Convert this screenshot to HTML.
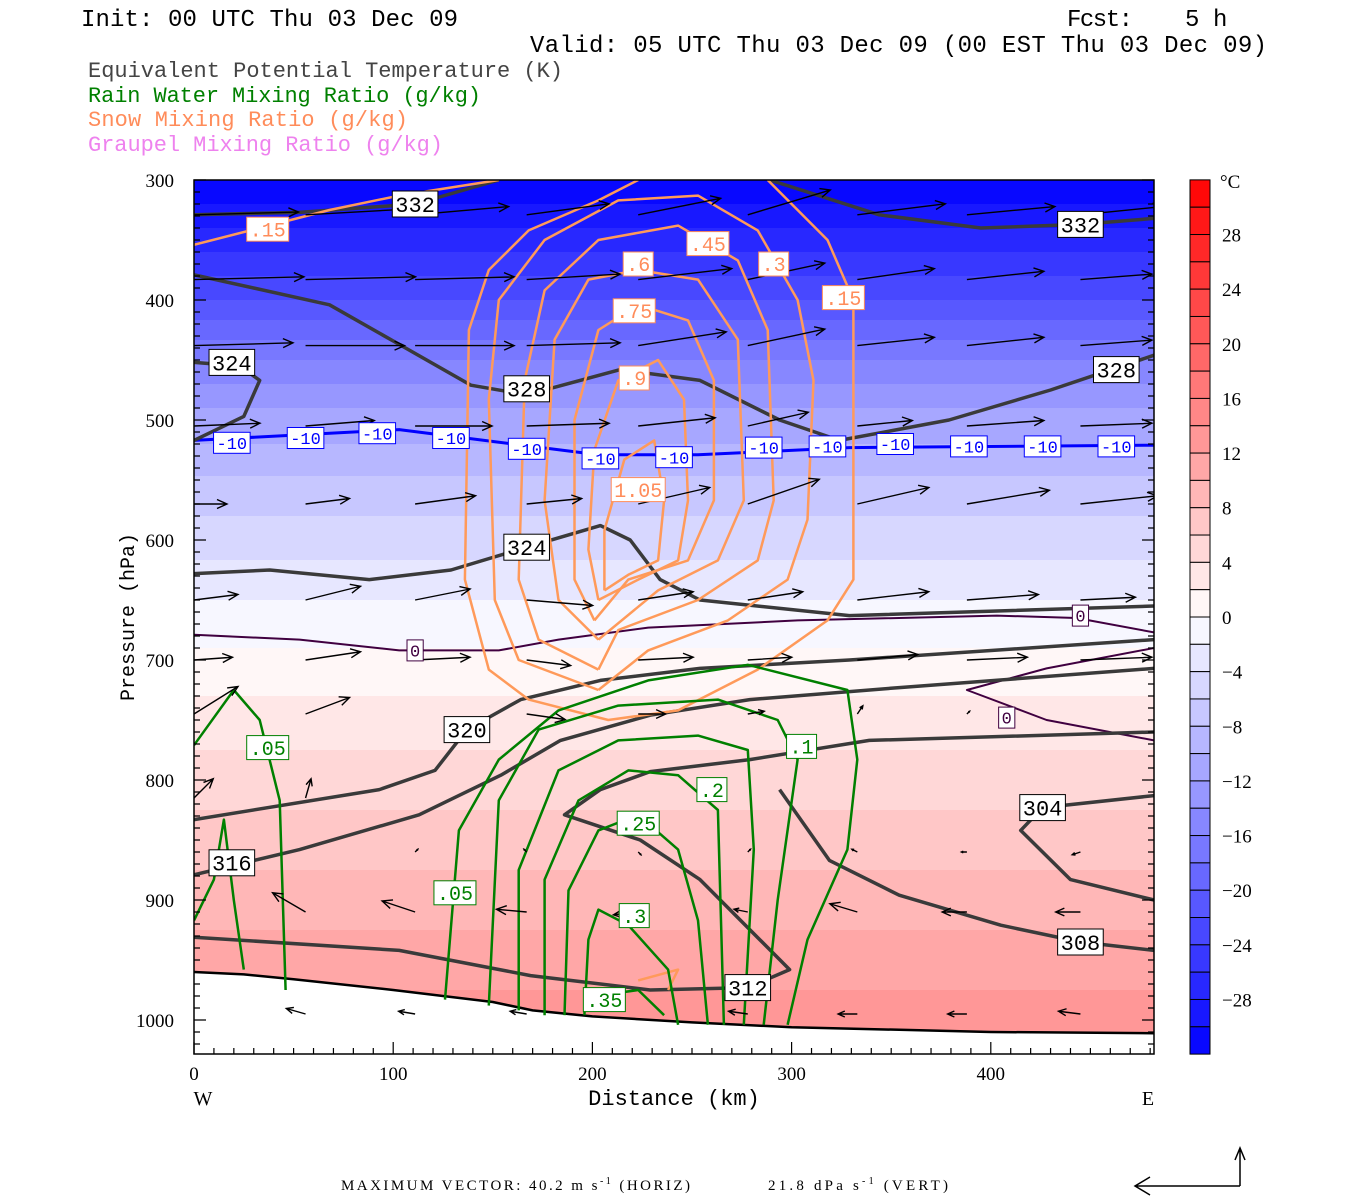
<!DOCTYPE html>
<html><head><meta charset="utf-8"><style>
body{margin:0;background:#fff;}
svg{display:block;}
text{font-family:"Liberation Mono",monospace;}
</style></head><body>
<svg id="chart" width="1350" height="1200" xmlns="http://www.w3.org/2000/svg">
<g font-size="24" fill="#000">
<text x="81" y="26" font-size="24" textLength="377">Init: 00 UTC Thu 03 Dec 09</text>
<g>
<text x="1067" y="26" font-size="24" textLength="66">Fcst:</text>
<text x="1185" y="26" font-size="24">5</text>
<text x="1213" y="26" font-size="24">h</text>
</g>
<text x="530" y="52" font-size="24" textLength="737">Valid: 05 UTC Thu 03 Dec 09 (00 EST Thu 03 Dec 09)</text>
</g>
<g font-size="22">
<text x="88" y="77" fill="#444" textLength="475">Equivalent Potential Temperature (K)</text>
<text x="88" y="102" fill="#008000" textLength="393">Rain Water Mixing Ratio (g/kg)</text>
<text x="88" y="126" fill="#ff8c5a" textLength="320">Snow Mixing Ratio (g/kg)</text>
<text x="88" y="151" fill="#ee82ee" textLength="355">Graupel Mixing Ratio (g/kg)</text>
</g>
<defs><clipPath id="pc"><rect x="194" y="180" width="960" height="874"/></clipPath></defs>
<g id="plot" clip-path="url(#pc)"></g>
<g id="axes"></g>
<g id="cbar"></g>
<g font-size="15">
<text x="341" y="1190" style="font-family:'Liberation Serif',serif" textLength="349">MAXIMUM VECTOR:   40.2 m s<tspan dy="-6" font-size="10">-1</tspan><tspan dy="6"> (HORIZ)</tspan></text>
<text x="768" y="1190" style="font-family:'Liberation Serif',serif" textLength="180">21.8 dPa s<tspan dy="-6" font-size="10">-1</tspan><tspan dy="6"> (VERT)</tspan></text>
<g stroke="#000" stroke-width="1.5" fill="none">
<path d="M1240 1186 L1135 1186 M1150 1177 L1135 1186 L1150 1195"/>
<path d="M1240 1186 L1240 1148 M1235 1160 L1240 1148 L1245 1160"/>
</g>
</g>
</svg>
<script>
// ---- data ----
const tempP=[300,320,350,400,450,500,520,560,600,650,690,750,800,850,900,950,1000,1030];
const tempT=[-32,-30,-27,-22,-16,-11,-10,-7,-5,-2,0,3,5,7,9,11,13,14];
const terrain=[[0,960],[25,962],[50,966],[100,975],[150,985],[170,992],[200,997],[250,1002],[300,1006],[400,1010],[482,1011]];
const thetaLines=[
[[0,329],[53,327],[111,320],[153,300]],
[[289,300],[344,329],[395,340],[445,337],[482,332]],
[[0,379],[68,404],[103,437],[139,471],[167,479],[214,458],[254,467],[294,500],[324,517],[379,500],[430,475],[482,446]],
[[0,517],[25,497],[33,467],[23,455],[0,452]],
[[0,628],[38,625],[88,633],[129,625],[167,606],[204,588],[219,600],[234,633],[254,650],[329,663],[482,655]],
[[0,833],[93,808],[121,792],[137,758],[164,733],[204,717],[254,707],[329,700],[482,683]],
[[0,879],[53,858],[113,829],[154,796],[184,767],[229,746],[279,733],[354,723],[482,707]],
[[0,931],[103,942],[169,963],[229,975],[278,973],[299,958],[284,933],[254,883],[224,850],[186,829],[204,808],[229,793],[279,783],[339,767],[482,760]],
[[294,808],[319,867],[354,896],[405,921],[445,935],[482,942]],
[[482,813],[426,823],[415,842],[440,883],[482,900]]];
const thetaLabels=["332","332","324","328","328","324","320","316","312","308","304"];
const thetaLabelPos=[[111,320],[445,337],[19,452],[167,474],[463,458],[167,606],[137,758],[19,869],[278,973],[445,935],[426,823]];
const snowLines=[
[[0,354],[33,340],[68,325],[103,313],[153,300]],
[[288,300],[318,350],[331,400],[331,633],[318,667],[283,708],[243,742],[208,750],[168,733],[148,708],[136,633],[138,425],[148,375],[168,342],[203,317],[223,300]],
[[203,725],[163,700],[151,650],[148,483],[153,400],[176,350],[213,317],[253,313],[283,342],[303,400],[311,467],[308,583],[298,633],[268,667],[228,692],[203,725]],
[[203,708],[173,683],[163,633],[166,467],[176,392],[203,350],[243,338],[273,367],[288,425],[291,567],[283,617],[253,650],[213,675],[203,708]],
[[203,683],[183,650],[176,567],[181,433],[198,383],[223,375],[253,383],[273,433],[276,567],[263,617],[233,642],[203,683]],
[[201,667],[191,633],[191,500],[203,425],[223,404],[248,417],[261,467],[261,567],[248,617],[218,633],[201,667]],
[[203,650],[198,608],[201,525],[213,467],[233,450],[246,483],[248,567],[243,617],[223,633],[203,650]],
[[206,642],[206,592],[216,533],[231,517],[236,567],[233,617],[218,629],[206,642]],
[[223,967],[243,958],[238,975]]];
const snowLabels=[".15",".45",".3",".6",".75",".9","1.05",".15"];
const snowLabelPos=[[37,341],[258,353],[291,370],[223,370],[221,409],[221,465],[223,558],[326,398]];
const rainLines=[
[[126,983],[133,842],[153,783],[183,742],[228,717],[278,704],[328,725],[333,783],[328,858],[308,933],[298,1004]],
[[0,771],[20,725],[33,750],[43,817],[46,975]],
[[0,917],[10,883],[15,833],[20,900],[25,958]],
[[148,988],[153,817],[173,758],[213,738],[263,733],[293,750],[303,783],[293,900],[286,1004]],
[[163,992],[163,875],[183,792],[213,767],[253,763],[278,775],[281,858],[276,1004]],
[[176,996],[176,883],[193,817],[218,792],[243,796],[263,825],[266,1004]],
[[186,996],[188,892],[203,842],[223,829],[243,858],[253,917],[258,1004]],
[[196,996],[198,933],[203,908],[218,921],[238,958],[243,1004]],
[[206,979],[223,975],[236,996]]];
const rainLabels=[".05",".05",".1",".2",".25",".3",".35"];
const rainLabelPos=[[37,773],[131,894],[305,772],[260,808],[223,836],[221,913],[206,983]];
const iso10=[[0,517],[103,508],[203,529],[253,529],[329,523],[482,521]];
const iso10LabelKm=[19,56,92,129,167,204,241,286,318,352,389,426,463];
const iso10LabelP=[519,515,511,515,524,532,531,523,522,520,522,522,522];
const iso0a=[[0,679],[53,683],[103,692],[153,692],[183,683],[228,673],[303,667],[403,663],[443,665],[482,677]];
const iso0b=[[482,690],[428,707],[388,725],[428,750],[482,767]];
const iso0LabelPos=[[111,692],[445,663],[408,748]];
const windKm=[0,56,111,167,223,278,333,388,445];
const windP=[329,383,438,505,570,650,700,745,815,860,910,995];
const windU=[
[38,36,34,30,30,30,32,32,30],
[40,40,36,34,34,28,28,28,26],
[36,36,36,34,32,28,28,28,26],
[24,25,28,30,28,22,20,28,26],
[12,16,22,20,26,26,26,30,28],
[16,20,20,24,20,20,26,26,20],
[14,20,20,16,20,16,22,22,26],
[16,16,0,14,10,6,2,1,1],
[7,2,0,0,0,0,0,0,0],
[0,0,1,-1,1,1,-2,-2,-3],
[0,-12,-12,-11,-9,-5,-10,-9,-9],
[0,-7,-6,-6,0,-7,-7,-7,-8]];
const windW=[
[1,2,3,4,6,9,4,3,3],
[1,1,1,2,4,6,4,3,2],
[1,0,0,1,5,6,3,3,2],
[1,2,0,1,3,5,2,2,1],
[0,2,3,2,6,9,6,5,3],
[2,5,4,-2,3,3,3,2,1],
[1,3,1,-2,1,1,2,1,1],
[10,6,0,-2,0,1,3,1,0],
[7,7,0,0,0,0,0,0,0],
[0,0,1,1,-1,1,1,0,-1],
[0,7,4,1,-1,1,3,0,0],
[0,2,1,1,0,1,0,0,1]];
const cbarTicks=[28,24,20,16,12,8,4,0,-4,-8,-12,-16,-20,-24,-28];
const xTicks=[0,100,200,300,400];
const yTicks=[300,400,500,600,700,800,900,1000];

// ---- scales ----
const X=k=>194+k*1.992;
const Y=p=>180+(p-300)*1.2;
const NS="http://www.w3.org/2000/svg";
function mk(tag,attrs,parent){const e=document.createElementNS(NS,tag);for(const k in attrs)e.setAttribute(k,attrs[k]);parent.appendChild(e);return e;}
function tcolor(t){const f=Math.min(1,Math.abs(t)/32);const c=Math.round(255*(1-f));return t>=0?`rgb(255,${c},${c})`:`rgb(${c},${c},255)`;}
function pAtT(t){for(let i=0;i<tempT.length-1;i++){if(t>=tempT[i]&&t<=tempT[i+1]){return tempP[i]+(t-tempT[i])/(tempT[i+1]-tempT[i])*(tempP[i+1]-tempP[i]);}}return t<tempT[0]?tempP[0]:tempP[tempP.length-1];}
const plot=document.getElementById('plot');
for(let t=-32;t<32;t+=2){
  const p1=pAtT(t),p2=pAtT(t+2);
  if(p2<=p1)continue;
  const r=mk('rect',{x:194,y:Y(p1),width:960,height:Y(p2)-Y(p1)+0.5,fill:tcolor(t+1)},plot);
  
  
}
const ptsStr=a=>a.map(q=>X(q[0]).toFixed(1)+','+Y(q[1]).toFixed(1)).join(' ');
function line(a,stroke,w,name){const e=mk('polyline',{points:ptsStr(a),fill:'none',stroke:stroke,'stroke-width':w,'stroke-linejoin':'round'},plot);
  
  return e;}
const tp=terrain.map(q=>[q[0],q[1]]);tp.push([482,1040]);tp.push([0,1040]);
const tpoly=mk('polygon',{points:ptsStr(tp),fill:'#fff'},plot);


line(terrain,'#000',2.5,'terrain-line');
line(iso10,'#0000ff',3,'isotherm-minus10');
line(iso0a,'#400040',2,'isotherm-0');
line(iso0b,'#400040',2,'isotherm-0-east');
thetaLines.forEach(a=>line(a,'#3a3a3a',3.5,'theta-e-contour'));
snowLines.forEach(a=>line(a,'#ff9a5a',2.5,'snow-contour'));
rainLines.forEach(a=>line(a,'#008000',2.5,'rain-contour'));
const S=2.75;
windP.forEach((p,i)=>windKm.forEach((k,j)=>{
  const u=windU[i][j],w=windW[i][j];
  const dx=u*S,dy=-w*S;const L=Math.hypot(dx,dy);if(L<3)return;
  const x0=X(k),y0=Y(p),x1=x0+dx,y1=y0+dy;
  const ux=dx/L,uy=dy/L,h=Math.min(10,L*0.35);
  const e=mk('path',{d:`M${x0} ${y0} L${x1} ${y1} M${x1-h*ux-h*0.45*uy} ${y1-h*uy+h*0.45*ux} L${x1} ${y1} L${x1-h*ux+h*0.45*uy} ${y1-h*uy-h*0.45*ux}`,stroke:'#000','stroke-width':1.4,fill:'none'},plot);
  
  
}));
function label(txt,k,p,color,fs,name){
  const g=mk('g',{},plot);
  
  
  const w=txt.length*fs*0.6+6,h=fs+4;
  mk('rect',{x:X(k)-w/2,y:Y(p)-h/2,width:w,height:h,fill:'#fff',stroke:color,'stroke-width':1},g);
  const t=mk('text',{x:X(k),y:Y(p)+fs*0.36,'text-anchor':'middle','font-size':fs,fill:color},g);
  t.textContent=txt;
}
thetaLabelPos.forEach((q,i)=>label(thetaLabels[i],q[0],q[1],'#000',22,'theta-e-label'));
snowLabelPos.forEach((q,i)=>label(snowLabels[i],q[0],q[1],'#ff8c5a',20,'snow-label'));
rainLabelPos.forEach((q,i)=>label(rainLabels[i],q[0],q[1],'#008000',20,'rain-label'));
iso10LabelKm.forEach((k,i)=>label('-10',k,iso10LabelP[i],'#0000ff',17,'isotherm-label'));
iso0LabelPos.forEach(q=>label('0',q[0],q[1],'#400040',17,'isotherm-label'));
const ax=document.getElementById('axes');
mk('rect',{x:194,y:180,width:960,height:874,fill:'none',stroke:'#000','stroke-width':1.5},ax);
let d='';
for(let p=300;p<=1020;p+=10){const L=p%100===0?12:6;d+=`M194 ${Y(p)} L${194+L} ${Y(p)} M1154 ${Y(p)} L${1154-L} ${Y(p)} `;}
for(let k=0;k<=480;k+=10){const L=k%100===0?12:6;d+=`M${X(k)} 1054 L${X(k)} ${1054-L} `;}
mk('path',{d:d,stroke:'#000','stroke-width':1.2},ax);
yTicks.forEach(p=>{const t=mk('text',{x:174,y:Y(p)+7,'text-anchor':'end','font-size':19,style:"font-family:'Liberation Serif',serif"},ax);
  
  t.textContent=p;});
xTicks.forEach(k=>{const t=mk('text',{x:X(k),y:1080,'text-anchor':'middle','font-size':19,style:"font-family:'Liberation Serif',serif"},ax);
  
  t.textContent=k;});
const xt=mk('text',{x:674,y:1105,'text-anchor':'middle','font-size':22},ax);xt.textContent='Distance (km)';


const yt=mk('text',{x:0,y:0,'text-anchor':'middle','font-size':20,transform:'translate(134,617) rotate(-90)'},ax);yt.textContent='Pressure (hPa)';


const wl=mk('text',{x:203,y:1105,'text-anchor':'middle','font-size':20,style:"font-family:'Liberation Serif',serif"},ax);wl.textContent='W';


const el=mk('text',{x:1148,y:1105,'text-anchor':'middle','font-size':20,style:"font-family:'Liberation Serif',serif"},ax);el.textContent='E';


const cb=document.getElementById('cbar');
const CY=t=>617-(t)*13.66;
for(let t=30;t>=-32;t-=2){
  const r=mk('rect',{x:1190,y:CY(t+2),width:20,height:CY(t)-CY(t+2),fill:tcolor(t+1),stroke:'#000','stroke-width':1},cb);
  
  
}
cbarTicks.forEach(t=>{const e=mk('text',{x:1222,y:CY(t)+7,'font-size':19,style:"font-family:'Liberation Serif',serif"},cb);
  
  e.textContent=(t<0?'\u2212'+(-t):t);});
const cu=mk('text',{x:1220,y:188,'font-size':19,style:"font-family:'Liberation Serif',serif"},cb);cu.textContent='°C';


</script>
</body></html>
